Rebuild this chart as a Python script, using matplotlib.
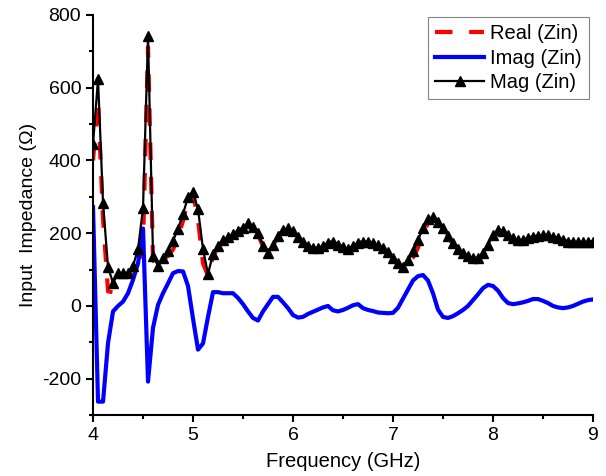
import numpy as np
import matplotlib.pyplot as plt
from matplotlib.ticker import MultipleLocator

plt.rcParams['font.family'] = ['Liberation Sans', 'DejaVu Sans']
plt.rcParams['axes.unicode_minus'] = False

# Frequency sweep, 4-9 GHz in 0.05 GHz steps
freq = np.round(np.arange(4.0, 9.0001, 0.05), 2)

real_zin = [400, 566, 240, 40, 38, 85, 88, 85, 90, 105,
            165, 712, 125, 110, 127, 138, 155, 189, 234, 294,
            311, 237, 117, 83, 138, 160, 178, 186, 195, 205,
            214, 227, 215, 196, 164, 146, 166, 190, 209, 214,
            204, 187, 173, 163, 159, 160, 165, 173, 176, 167,
            162, 157, 165, 173, 176, 175, 172, 167, 159, 146,
            130, 118, 105, 117, 133, 160, 197, 228, 243, 232,
            212, 189, 170, 156, 145, 138, 131, 128, 137, 158,
            187, 205, 205, 195, 186, 181, 181, 185, 189, 191,
            193, 195, 190, 186, 181, 176, 176, 176, 176, 176,
            176]

imag_zin = [272, -263, -263, -102, -15, 0, 12, 35, 72, 117,
            213, -208, -60, 3, 35, 62, 90, 96, 95, 55,
            -35, -120, -103, -30, 38, 38, 35, 35, 35, 22,
            5, -15, -33, -40, -15, 5, 25, 25, 10, -6,
            -25, -32, -30, -22, -16, -10, -4, 0, -12, -15,
            -11, -5, 2, 5, -6, -11, -14, -18, -19, -20,
            -19, -5, 20, 45, 70, 82, 85, 70, 35, -10,
            -30, -33, -28, -20, -11, 0, 16, 32, 49, 58,
            55, 42, 22, 8, 5, 7, 10, 14, 19, 19,
            14, 8, 0, -4, -6, -4, 0, 6, 12, 16,
            18]

mag_zin = [445, 624, 283, 107, 63, 90, 90, 90, 110, 156,
           269, 742, 137, 110, 132, 151, 179, 212, 253, 299,
           313, 266, 156, 88, 143, 165, 181, 189, 198, 206,
           214, 228, 217, 200, 165, 146, 168, 192, 209, 214,
           206, 190, 176, 165, 160, 160, 165, 173, 176, 168,
           162, 157, 165, 173, 176, 175, 173, 168, 160, 147,
           132, 118, 107, 125, 150, 180, 215, 238, 245, 232,
           214, 192, 172, 157, 145, 138, 132, 132, 145, 168,
           195, 209, 206, 195, 186, 181, 181, 186, 190, 192,
           194, 195, 190, 186, 181, 176, 176, 176, 176, 176,
           176]

fig = plt.figure(figsize=(6.06, 4.76), dpi=100)
ax = fig.add_axes([0.1535, 0.128, 0.825, 0.8405])

ax.plot(freq, real_zin, color='red', linestyle=(0, (4.2, 4.0)), linewidth=3, label='Real (Zin)')
ax.plot(freq, imag_zin, color='blue', linewidth=3, label='Imag (Zin)')
ax.plot(freq, mag_zin, color='black', linewidth=1.6, marker='^', markersize=6.5,
        label='Mag (Zin)')

ax.set_xlim(4, 9)
ax.set_ylim(-300, 800)
ax.xaxis.set_major_locator(MultipleLocator(1))
ax.xaxis.set_minor_locator(MultipleLocator(0.5))
ax.yaxis.set_major_locator(MultipleLocator(200))
ax.yaxis.set_minor_locator(MultipleLocator(100))

for side in ['top', 'right']:
    ax.spines[side].set_visible(False)
for side in ['left', 'bottom']:
    ax.spines[side].set_linewidth(1.5)

ax.tick_params(which='major', direction='out', length=5, width=1.5, labelsize=14)
ax.tick_params(which='minor', direction='out', length=3, width=1.5)

ax.set_xlabel('Frequency (GHz)', fontsize=14.5, labelpad=6)
ax.set_ylabel('Input  Impedance (\u03a9)', fontsize=14, labelpad=4)

leg = ax.legend(loc='upper right', fontsize=14.5, frameon=True, fancybox=False,
                edgecolor='#666666', handlelength=2.45, handletextpad=0.3,
                borderpad=0.35, labelspacing=0.28, borderaxespad=0,
                bbox_to_anchor=(0.992, 0.995))
leg.get_frame().set_linewidth(0.8)

fig.savefig('out.png', dpi=100)
